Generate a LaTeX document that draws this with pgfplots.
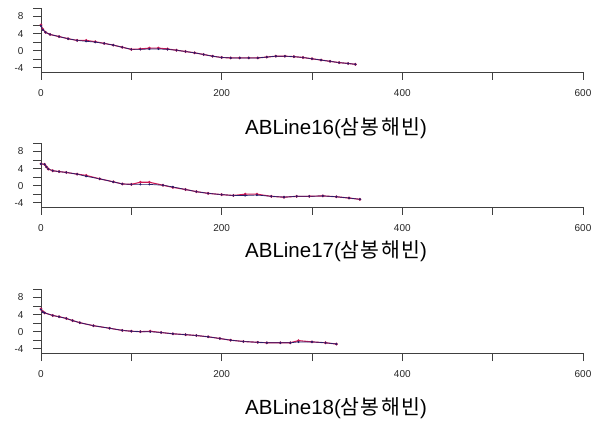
\documentclass[border=0pt]{standalone}
\usepackage{fontspec}
\setmainfont{Liberation Sans}
\newfontfamily\kr[LetterSpace=6]{Noto Sans CJK KR}
\usepackage{pgfplots}
\pgfplotsset{compat=1.18}

\definecolor{obsred}{RGB}{205,25,85}
\definecolor{fitblue}{RGB}{40,30,105}

\pgfplotsset{
  profile/.style={
    scale only axis,
    width=542pt, height=64pt,
    xmin=0, xmax=600, ymin=-5, ymax=10,
    axis x line=bottom, axis y line=left,
    axis line style={-, black!75, line width=0.6pt},
    tick style={black!75, line width=0.6pt},
    tick align=outside,
    major tick length=8pt,
    xtick={0,100,...,600},
    xticklabels={0,,200,,400,,600},
    ytick={-4,-2,...,10},
    yticklabels={-4,,0,,4,,8,},
    /pgf/number format/assume math mode=true,
    ticklabel style={font=\fontsize{10}{12}\selectfont, black!85},
    xticklabel style={yshift=-6pt},
    yticklabel style={xshift=-6pt},
    clip=false,
  },
  obs/.style={obsred, line width=1.1pt, mark=*, mark size=0.8pt},
  fit/.style={fitblue, line width=0.7pt, mark=*, mark size=0.7pt},
}
\tikzset{titlelab/.style={font=\fontsize{20.5}{24}\selectfont, anchor=center}}

\begin{document}
\begin{tikzpicture}
\path[use as bounding box] (0,0) rectangle (591pt,423pt);

% ---------- ABLine16 ----------
\begin{axis}[profile, at={(41pt,351pt)}, anchor=south west]
\addplot[obs] coordinates {
(0,6.0) (2,5.0) (5,4.3) (10,3.8) (20,3.3) (30,2.8) (40,2.4) (50,2.4) (60,2.1)
(70,1.7) (80,1.3) (90,0.8) (100,0.3) (110,0.4) (120,0.6) (130,0.6) (140,0.4)
(150,0.1) (160,-0.2) (170,-0.5) (180,-0.9) (190,-1.3) (200,-1.6) (210,-1.7)
(220,-1.7) (230,-1.7) (240,-1.7) (250,-1.5) (260,-1.3) (270,-1.3) (280,-1.4)
(290,-1.6) (300,-1.9) (310,-2.2) (320,-2.5) (330,-2.8) (340,-3.0) (348,-3.2)};
\addplot[fit] coordinates {
(0,5.8) (2,4.9) (5,4.3) (10,3.8) (20,3.3) (30,2.8) (40,2.4) (50,2.2) (60,2.0)
(70,1.7) (80,1.3) (90,0.8) (100,0.3) (110,0.3) (120,0.4) (130,0.4) (140,0.3)
(150,0.1) (160,-0.2) (170,-0.5) (180,-0.9) (190,-1.3) (200,-1.6) (210,-1.7)
(220,-1.7) (230,-1.7) (240,-1.7) (250,-1.5) (260,-1.3) (270,-1.3) (280,-1.4)
(290,-1.6) (300,-1.9) (310,-2.2) (320,-2.5) (330,-2.8) (340,-3.0) (348,-3.2)};
\end{axis}
\node[titlelab] at (336pt,295pt) {ABLine16({\kr 삼봉해빈})};

% ---------- ABLine17 ----------
\begin{axis}[profile, at={(41pt,216pt)}, anchor=south west]
\addplot[obs] coordinates {
(0,5.1) (4,5.0) (6,4.4) (8,3.9) (13,3.5) (20,3.3) (28,3.1) (40,2.7) (50,2.4)
(65,1.6) (80,0.9) (90,0.4) (100,0.3) (110,0.8) (120,0.8) (135,0.1) (146,-0.4)
(160,-0.9) (172,-1.4) (185,-1.8) (200,-2.1) (213,-2.3) (226,-2.0) (239,-2.0)
(255,-2.5) (269,-2.7) (283,-2.5) (297,-2.5) (312,-2.4) (327,-2.6) (341,-2.9)
(353,-3.2)};
\addplot[fit] coordinates {
(0,5.1) (4,5.0) (6,4.4) (8,3.9) (13,3.5) (20,3.3) (28,3.1) (40,2.7) (50,2.2)
(65,1.6) (80,0.9) (90,0.4) (100,0.3) (110,0.3) (120,0.3) (135,0.1) (146,-0.3)
(160,-0.9) (172,-1.4) (185,-1.8) (200,-2.1) (213,-2.3) (226,-2.3) (239,-2.2)
(255,-2.5) (269,-2.7) (283,-2.5) (297,-2.5) (312,-2.4) (327,-2.6) (341,-2.9)
(353,-3.2)};
\end{axis}
\node[titlelab] at (336pt,172pt) {ABLine17({\kr 삼봉해빈})};

% ---------- ABLine18 ----------
\begin{axis}[profile, at={(41pt,70pt)}, anchor=south west]
\addplot[obs] coordinates {
(0,5.3) (2,4.7) (4,4.4) (13,3.8) (20,3.5) (28,3.1) (35,2.6) (43,2.1) (58,1.4)
(76,0.8) (90,0.3) (100,0.1) (110,0.0) (121,0.1) (133,-0.2) (146,-0.5) (160,-0.7)
(172,-0.9) (185,-1.2) (198,-1.6) (210,-2.0) (224,-2.3) (240,-2.5) (250,-2.6)
(265,-2.6) (276,-2.6) (285,-2.1) (300,-2.4) (315,-2.6) (327,-2.9)};
\addplot[fit] coordinates {
(0,5.2) (2,4.6) (4,4.4) (13,3.8) (20,3.5) (28,3.1) (35,2.6) (43,2.1) (58,1.4)
(76,0.8) (90,0.3) (100,0.1) (110,0.0) (121,0.0) (133,-0.2) (146,-0.5) (160,-0.7)
(172,-0.9) (185,-1.2) (198,-1.6) (210,-2.0) (224,-2.3) (240,-2.5) (250,-2.6)
(265,-2.6) (276,-2.6) (285,-2.4) (300,-2.4) (315,-2.6) (327,-2.9)};
\end{axis}
\node[titlelab] at (336pt,15pt) {ABLine18({\kr 삼봉해빈})};
\end{tikzpicture}
\end{document}
